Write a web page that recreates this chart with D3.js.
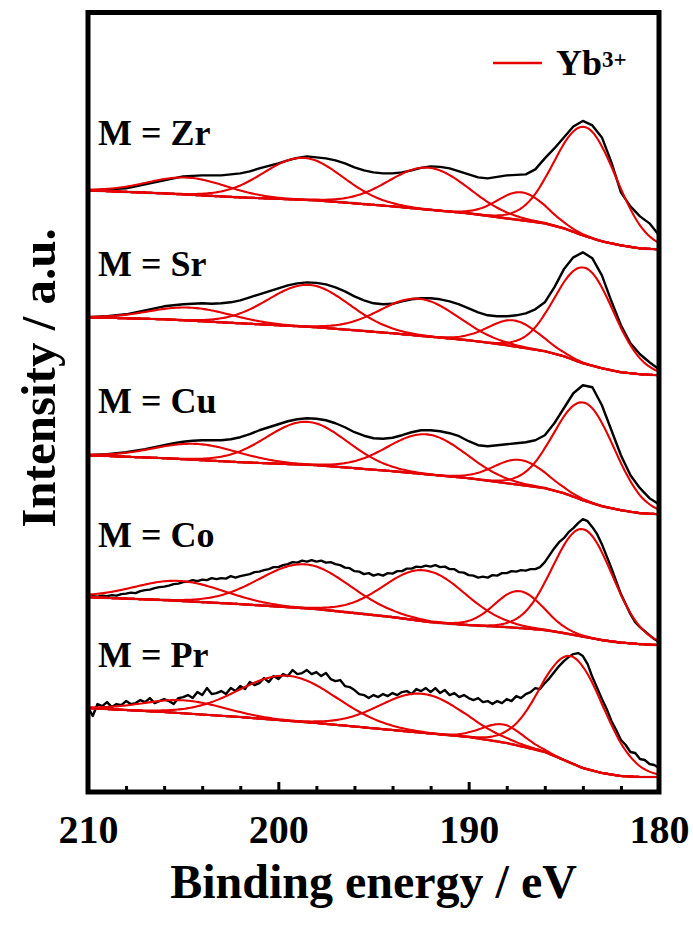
<!DOCTYPE html>
<html>
<head>
<meta charset="utf-8">
<script src="https://cdn.jsdelivr.net/npm/d3@7"></script>
<style>
  body { margin: 0; background: #fff; }
  svg { display: block; }
  text { font-family: "Liberation Serif", "Times New Roman", serif; font-weight: bold; fill: #000; }
</style>
</head>
<body>
<svg id="chart" width="693" height="926"></svg>
<script>
// ---- Yb 4d XPS spectra, stacked by sample ----
const sampleLabels = ["M = Pr", "M = Co", "M = Cu", "M = Sr", "M = Zr"];
// intensity (a.u.) at which each stacked trace starts at 210 eV
const stackOffsets = [8.5, 19.5, 33.7, 47.5, 60.2];
// label baselines in the same a.u. units
const labelLevels = [12.5, 24.5, 37.9, 51.6, 64.7];

// energy grids of the scans (eV): coarse 0.5 eV and fine 0.25 eV steps
const coarseEnergies = d3.range(210, 179.99, -0.5);
const fineEnergies = d3.range(210, 179.99, -0.25);

// raw counts relative to each trace's start (a.u.)
const countsPr = [
  0.0,-0.9,0.3,0.1,0.5,0.0,0.3,0.2,
  0.6,0.3,0.4,0.7,0.5,0.9,0.4,0.6,
  0.8,0.6,0.3,0.9,1.0,1.2,0.9,1.5,
  1.2,1.9,1.3,1.4,1.6,1.3,1.9,1.6,
  2.1,1.8,2.5,2.2,2.4,2.9,2.5,3.1,
  2.8,3.3,3.1,3.7,3.3,3.4,3.7,3.3,
  3.5,3.1,3.4,2.8,2.6,2.7,2.1,2.0,
  1.7,1.3,1.2,0.9,1.2,1.0,1.3,1.1,
  1.4,1.2,1.5,1.6,1.3,1.8,1.6,1.9,
  1.5,1.9,1.4,1.7,1.2,1.4,1.0,1.2,
  0.9,0.7,0.9,0.5,0.6,0.3,0.6,0.4,
  0.8,0.6,1.1,0.9,1.3,1.5,1.9,1.8,
  2.4,2.9,3.5,4.1,4.6,5.0,5.3,5.4,
  5.1,4.3,3.0,1.9,0.8,-0.2,-1.4,-2.3,
  -3.3,-3.8,-4.5,-4.6,-5.2,-5.3,-5.7,-5.8,
  -6.1];
const countsCo = [
  0.0,0.1,0.05,0.15,0.1,0.2,0.15,0.3,
  0.35,0.45,0.4,0.6,0.7,0.75,0.9,1.0,
  1.05,1.15,1.3,1.35,1.5,1.55,1.7,1.6,
  1.75,1.7,1.9,1.8,1.9,1.85,2.1,1.95,
  2.1,2.2,2.3,2.5,2.55,2.7,2.8,3.0,
  3.0,3.2,3.3,3.5,3.45,3.65,3.55,3.7,
  3.55,3.65,3.45,3.5,3.3,3.2,2.95,2.9,
  2.6,2.55,2.3,2.4,2.15,2.3,2.15,2.4,
  2.35,2.6,2.6,2.85,2.85,3.05,3.0,3.15,
  3.05,3.2,3.0,3.05,2.8,2.8,2.5,2.45,
  2.2,2.15,1.95,2.05,1.95,2.2,2.15,2.4,
  2.4,2.6,2.55,2.7,2.65,2.8,2.8,3.0,
  3.5,4.2,4.9,5.5,5.9,6.5,6.9,7.4,
  7.8,7.6,7.0,6.3,5.3,4.1,2.9,1.6,
  0.3,-0.7,-1.7,-2.5,-3.0,-3.4,-3.8,-4.2,
  -4.5];
const countsCu = [0,0.05,0.1,0.2,0.3,0.45,0.6,0.8,1.0,1.2, 1.35,1.45,1.5,1.5,1.5,1.6,1.8,2.1,2.5,2.8,
  3.1,3.4,3.6,3.7,3.65,3.5,3.2,2.8,2.3,1.95, 1.7,1.65,1.75,2.0,2.3,2.5,2.5,2.4,2.2,1.9,
  1.4,1.0,0.9,1.0,1.1,1.2,1.3,1.5,2.0,3.2, 4.7,6.2,7.0,6.8,5.0,2.5,0.0,-2.0,-3.3,-4.3, -4.9];
const countsSr = [0,0.05,0.1,0.2,0.3,0.5,0.7,0.9,1.1,1.2, 1.3,1.35,1.4,1.35,1.4,1.5,1.7,2.0,2.3,2.6,
  2.9,3.2,3.4,3.5,3.45,3.3,3.0,2.6,2.1,1.7, 1.4,1.3,1.35,1.6,1.8,1.9,1.9,1.8,1.6,1.3,
  0.9,0.5,0.2,0.1,0.1,0.2,0.4,0.8,1.5,3.0, 4.8,6.0,6.5,5.9,4.2,1.6,-0.8,-2.6,-3.7,-4.5, -5.2];
const countsZr = [0,0.05,0.1,0.15,0.2,0.4,0.6,0.8,1.0,1.2, 1.4,1.45,1.5,1.5,1.5,1.6,1.7,1.9,2.2,2.45,
  2.7,3.0,3.25,3.4,3.3,3.2,3.0,2.7,2.3,2.0, 1.8,1.7,1.7,1.8,2.0,2.25,2.4,2.35,2.2,1.9,
  1.6,1.3,1.2,1.35,1.5,1.55,1.6,2.1,3.2,4.2, 5.3,6.4,6.95,6.5,5.3,2.8,-0.2,-1.6,-2.6,-3.3, -4.5];

// Shirley background knots (a.u., relative to trace start)
const backgroundEnergies = [210, 206, 202, 198, 194, 192, 190, 188, 186, 185, 184, 183, 182, 181, 180];
const backgroundPr = [-0.1, -0.5, -1.0, -1.6, -2.3, -2.65, -3.0, -3.6, -4.5, -5.3, -6.1, -6.6, -6.9, -7.0, -7.0];
const backgroundCo = [0, -0.3, -0.7, -1.2, -2.0, -2.5, -2.8, -3.0, -3.3, -3.6, -3.95, -4.3, -4.55, -4.7, -4.8];
const backgroundCu = [0, -0.3, -0.7, -1.0, -1.6, -1.95, -2.3, -2.8, -3.3, -3.8, -4.5, -5.1, -5.5, -5.8, -5.9];
const backgroundSr = [0, -0.2, -0.6, -1.0, -1.6, -1.95, -2.3, -2.8, -3.4, -3.9, -4.6, -5.1, -5.5, -5.7, -5.8];
const backgroundZr = [0, -0.3, -0.7, -1.0, -1.6, -1.95, -2.3, -2.8, -3.3, -3.8, -4.5, -5.1, -5.5, -5.8, -5.9];

// Yb3+ fitted components: [centre eV, height a.u., FWHM eV]
const peaksPr = [[204.95, 1.3, 5.0], [199.5, 4.5, 6.0], [192.45, 3.9, 5.2], [188.2, 1.8, 2.6], [184.55, 10.7, 3.9]];
const peaksCo = [[205.2, 2.0, 5.5], [198.6, 4.4, 5.6], [192.3, 5.1, 5.0], [187.35, 3.7, 3.0], [184.0, 10.75, 3.7]];
const peaksCu = [[204.3, 1.6, 5.2], [198.5, 4.3, 5.0], [192.2, 4.0, 4.8], [187.3, 2.5, 3.2], [183.9, 9.8, 3.7]];
const peaksSr = [[204.6, 1.3, 5.0], [198.4, 4.2, 5.0], [192.6, 3.7, 4.8], [187.6, 2.6, 3.2], [183.9, 9.6, 3.6]];
const peaksZr = [[204.8, 1.7, 4.9], [198.7, 4.2, 4.9], [192.1, 4.2, 4.9], [187.2, 2.8, 3.0], [183.85, 10.9, 3.8]];

const majorTicks = [210, 200, 190, 180];
const minorTicks = [208, 206, 204, 202, 198, 196, 194, 192, 188, 186, 184, 182];

const legendLabel = "Yb";
const legendCharge = "3+";
const xTitle = "Binding energy / eV";
const yTitle = "Intensity / a.u.";

// ---- assemble per-sample records ----
const spectra = [
  { energies: fineEnergies, counts: countsPr, bg: backgroundPr, peaks: peaksPr },
  { energies: fineEnergies, counts: countsCo, bg: backgroundCo, peaks: peaksCo },
  { energies: coarseEnergies, counts: countsCu, bg: backgroundCu, peaks: peaksCu },
  { energies: coarseEnergies, counts: countsSr, bg: backgroundSr, peaks: peaksSr },
  { energies: coarseEnergies, counts: countsZr, bg: backgroundZr, peaks: peaksZr }
].map((s, i) => ({ ...s, label: sampleLabels[i], offset: stackOffsets[i], labelLevel: labelLevels[i] }));

// ---- layout ----
const svg = d3.select("#chart");
const frame = { left: 88, right: 659, top: 12.5, bottom: 792 };
const x = d3.scaleLinear().domain([210, 180]).range([frame.left, frame.right]);
const y = d3.scaleLinear().domain([0, 78]).range([frame.bottom, frame.top]);

const COLORS = { data: "#000000", fit: "#e60000", bg: "#a9a9a9" };

const plot = svg.append("g");
const line = d3.line().x(d => x(d[0])).y(d => y(d[1]));
// evaluation grid for drawing the smooth fitted components
const fitGrid = d3.range(210, 179.99, -0.1);
const gauss = (e, p) => p[1] * Math.exp(-4 * Math.LN2 * (e - p[0]) ** 2 / (p[2] * p[2]));

spectra.forEach(s => {
  const bgAt = d3.scaleLinear().domain(backgroundEnergies).range(s.bg);
  const g = plot.append("g");

  // background
  g.append("path")
    .attr("d", line.curve(d3.curveMonotoneX)(backgroundEnergies.map((e, k) => [e, s.offset + s.bg[k]])))
    .attr("fill", "none").attr("stroke", COLORS.bg).attr("stroke-width", 2.6);

  // raw spectrum
  g.append("path")
    .attr("d", line.curve(d3.curveLinear)(s.energies.map((e, k) => [e, s.offset + s.counts[k]])))
    .attr("fill", "none").attr("stroke", COLORS.data).attr("stroke-width", 2.4)
    .attr("stroke-linejoin", "round");

  // fitted components on top of background
  s.peaks.forEach(p => {
    g.append("path")
      .attr("d", line.curve(d3.curveLinear)(fitGrid.map(e => [e, s.offset + bgAt(e) + gauss(e, p)])))
      .attr("fill", "none").attr("stroke", COLORS.fit).attr("stroke-width", 2.1);
  });

  // sample label
  svg.append("text")
    .attr("x", 98).attr("y", y(s.labelLevel))
    .attr("font-size", 36)
    .text(s.label);
});

// ---- axis ticks (inward) and labels ----
const axisY = frame.bottom;
const minorAxis = d3.axisBottom(x).tickValues(minorTicks).tickSize(-6).tickFormat("");
const majorAxis = d3.axisBottom(x).tickValues(majorTicks).tickSize(-10).tickPadding(23).tickFormat(d3.format("d"));

const gMinor = svg.append("g").attr("transform", `translate(0,${axisY})`).call(minorAxis);
const gMajor = svg.append("g").attr("transform", `translate(0,${axisY})`).call(majorAxis);
[gMinor, gMajor].forEach(g => {
  g.select(".domain").remove();
  g.selectAll(".tick line").attr("stroke", "#000").attr("stroke-width", 3);
});
gMajor.selectAll(".tick text")
  .attr("font-size", 40)
  .attr("font-family", "'Liberation Serif', 'Times New Roman', serif")
  .attr("font-weight", "bold")
  .attr("fill", "#000");

// frame
svg.append("rect")
  .attr("x", frame.left).attr("y", frame.top)
  .attr("width", frame.right - frame.left).attr("height", frame.bottom - frame.top)
  .attr("fill", "none").attr("stroke", "#000").attr("stroke-width", 5);

// axis titles
svg.append("text")
  .attr("x", (frame.left + frame.right) / 2).attr("y", 898)
  .attr("text-anchor", "middle").attr("font-size", 48)
  .text(xTitle);

svg.append("text")
  .attr("transform", `translate(55,378) rotate(-90)`)
  .attr("text-anchor", "middle").attr("font-size", 49)
  .text(yTitle);

// legend
const legend = svg.append("g");
legend.append("line")
  .attr("x1", 493).attr("x2", 542).attr("y1", 63).attr("y2", 63)
  .attr("stroke", COLORS.fit).attr("stroke-width", 2.6);
const lt = legend.append("text").attr("x", 556).attr("y", 75).attr("font-size", 36);
lt.append("tspan").text(legendLabel);
lt.append("tspan").attr("font-size", 23).attr("dy", -8).text(legendCharge);
</script>
</body>
</html>
